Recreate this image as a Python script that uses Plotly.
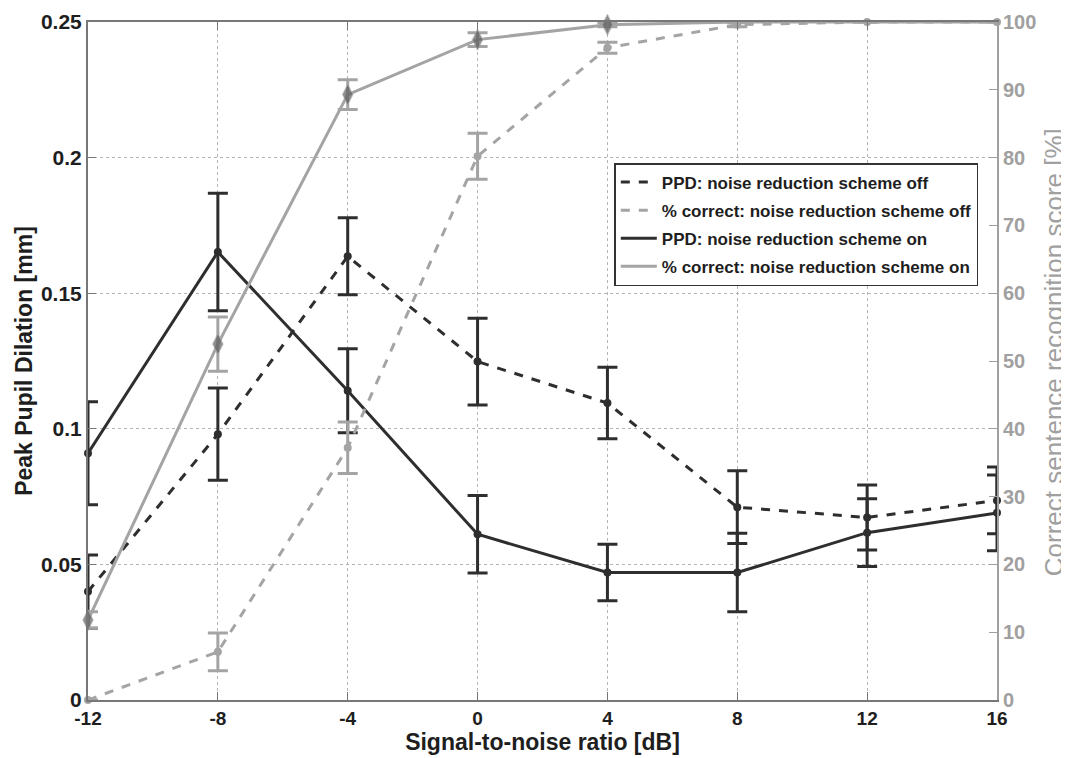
import plotly.graph_objects as go

snr = [-12, -8, -4, 0, 4, 8, 12, 16]

ppd_off = [0.040, 0.098, 0.1636, 0.1248, 0.1095, 0.0711, 0.0673, 0.0736]
ppd_off_err = [0.0135, 0.017, 0.0142, 0.016, 0.0132, 0.0134, 0.012, 0.0123]

ppd_on = [0.091, 0.1652, 0.114, 0.0611, 0.047, 0.047, 0.0617, 0.069]
ppd_on_err = [0.019, 0.0217, 0.0155, 0.0143, 0.0104, 0.0145, 0.0125, 0.014]

pct_off = [0.0, 7.1, 37.2, 80.2, 96.2, 99.6, 100.0, 100.0]
pct_off_err = [0.0, 2.8, 3.8, 3.4, 0.8, 0.3, 0.0, 0.0]

pct_on = [11.8, 52.5, 89.3, 97.4, 99.6, 100.0, 100.0, 100.0]
pct_on_err = [1.2, 4.0, 2.2, 1.0, 0.3, 0.0, 0.0, 0.0]

x_ticks = [-12, -8, -4, 0, 4, 8, 12, 16]
left_ticks = [0, 0.05, 0.1, 0.15, 0.2, 0.25]
left_labels = ["0", "0.05", "0.1", "0.15", "0.2", "0.25"]
right_ticks = [0, 10, 20, 30, 40, 50, 60, 70, 80, 90, 100]

legend_names = [
    "PPD: noise reduction scheme off",
    "% correct: noise reduction scheme off",
    "PPD: noise reduction scheme on",
    "% correct: noise reduction scheme on",
]

DARK = "#2e2e2e"
GRAY = "#a4a4a4"
DIAMOND = "#5e5e5e"
FONT = "Liberation Sans, Arial, sans-serif"

# diamonds are only visible below the top border
diamond_sizes = [15 if v < 99.9 else 0 for v in pct_on]

fig = go.Figure()

# PPD traces (left axis)
fig.add_trace(go.Scatter(
    x=snr, y=ppd_off, mode="lines+markers", showlegend=False, cliponaxis=False,
    line=dict(color=DARK, width=3, dash="dash"),
    marker=dict(color=DARK, size=8, symbol="circle"),
    error_y=dict(type="data", array=ppd_off_err, color=DARK, thickness=3, width=10),
))
fig.add_trace(go.Scatter(
    x=snr, y=ppd_on, mode="lines+markers", showlegend=False, cliponaxis=False,
    line=dict(color=DARK, width=3),
    marker=dict(color=DARK, size=8, symbol="circle"),
    error_y=dict(type="data", array=ppd_on_err, color=DARK, thickness=3, width=10),
))

# % correct traces (right axis)
fig.add_trace(go.Scatter(
    x=snr, y=pct_on, mode="lines+markers", showlegend=False, cliponaxis=False,
    yaxis="y2",
    line=dict(color=GRAY, width=3),
    marker=dict(color=DIAMOND, size=diamond_sizes, symbol="diamond-tall"),
    error_y=dict(type="data", array=pct_on_err, color=GRAY, thickness=3, width=10),
))
fig.add_trace(go.Scatter(
    x=snr, y=pct_off, mode="lines+markers", showlegend=False, cliponaxis=False,
    yaxis="y2",
    line=dict(color=GRAY, width=3, dash="dash"),
    marker=dict(color=GRAY, size=8, symbol="circle"),
    error_y=dict(type="data", array=pct_off_err, color=GRAY, thickness=3, width=10),
))

# legend entries (lines only)
legend_styles = [
    dict(color=DARK, width=3, dash="dash"),
    dict(color=GRAY, width=3, dash="dash"),
    dict(color=DARK, width=3),
    dict(color=GRAY, width=3),
]
for i, (name, ls) in enumerate(zip(legend_names, legend_styles)):
    fig.add_trace(go.Scatter(x=[None], y=[None], mode="lines", name=name, line=ls,
                             legendgroup=f"g{i}"))

fig.update_layout(
    width=1061, height=750,
    margin=dict(l=80, r=72, t=14, b=58),
    paper_bgcolor="white", plot_bgcolor="white",
    font=dict(family=FONT, size=20, color="#222222"),
    xaxis=dict(
        range=[-12, 16], tickvals=x_ticks, ticktext=[str(v) for v in x_ticks],
        ticks="inside", ticklen=8, tickcolor="#777777", automargin=False,
        showline=True, linecolor="#777777", linewidth=2, mirror="ticks",
        showgrid=True, gridcolor="#b5b5b5", griddash="dot", gridwidth=1,
        zeroline=False,
        tickfont=dict(family=FONT, size=19, color="#1e1e1e", weight="bold"),
        title=dict(text="<b>Signal-to-noise ratio [dB]</b>", standoff=4,
                   font=dict(family=FONT, size=23, color="#1e1e1e")),
    ),
    yaxis=dict(
        range=[0, 0.25], tickvals=left_ticks, ticktext=left_labels,
        ticks="inside", ticklen=8, tickcolor="#777777", automargin=False,
        showline=True, linecolor="#777777", linewidth=2,
        showgrid=True, gridcolor="#b5b5b5", griddash="dot", gridwidth=1,
        zeroline=False,
        tickfont=dict(family=FONT, size=21, color="#1e1e1e", weight="bold"),
        title=dict(text="<b>Peak Pupil Dilation [mm]</b>", standoff=2,
                   font=dict(family=FONT, size=23, color="#1e1e1e")),
    ),
    yaxis2=dict(
        range=[0, 100], tickvals=right_ticks, overlaying="y", side="right",
        ticks="inside", ticklen=8, tickcolor="#a0a0a0", automargin=False,
        showline=True, linecolor="#a0a0a0", linewidth=2,
        showgrid=False, zeroline=False,
        tickfont=dict(family=FONT, size=20, color="#a0a0a0", weight="bold"),
    ),
    legend=dict(
        x=0.579, y=0.792, xanchor="left", yanchor="top",
        bgcolor="white", bordercolor="#333333", borderwidth=1.5,
        font=dict(family=FONT, size=17, color="#1e1e1e", weight="bold"),
        traceorder="grouped", tracegroupgap=3, itemwidth=36,
    ),
    annotations=[dict(
        text="Correct sentence recognition score [%]",
        xref="paper", yref="paper", x=1, y=0.513, xshift=57,
        xanchor="center", yanchor="middle", textangle=-90, showarrow=False,
        font=dict(family="Liberation Sans Narrow, " + FONT, size=26, color="#a0a0a0"),
    )],
)

fig.write_html("out.html")
